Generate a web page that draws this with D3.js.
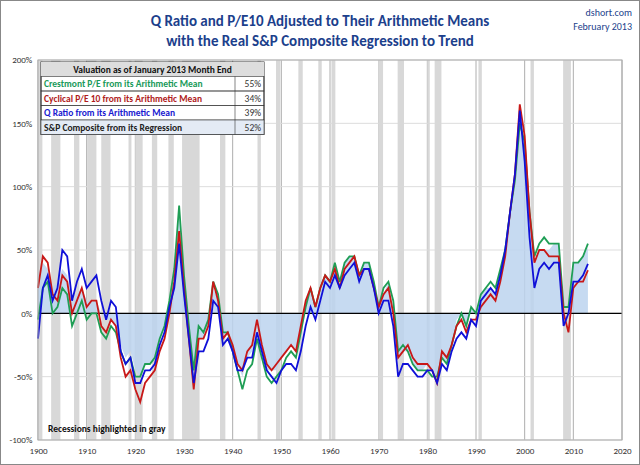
<!DOCTYPE html><html><head><meta charset="utf-8"><script src="https://d3js.org/d3.v7.min.js"></script>
<style>body{margin:0;background:#fff}text{font-family:Calibri,Carlito,"Liberation Sans",sans-serif}</style></head><body><svg id="c" width="640" height="465"></svg>
<script>
const years=d3.range(1900,2014);
const qRatio=[-20,20,30,10,20,50,45,10,25,35,20,25,30,10,-5,10,5,-30,-40,-35,-55,-55,-45,-45,-40,-25,-15,5,20,55,15,-20,-55,-30,-30,-20,10,5,-25,-20,-30,-45,-45,-35,-35,-15,-30,-45,-50,-55,-45,-40,-40,-45,-30,-10,5,-5,10,25,20,30,20,30,35,40,25,35,35,20,0,10,10,-10,-50,-40,-40,-45,-50,-50,-45,-45,-55,-40,-45,-30,-20,-15,-20,-5,-10,10,15,20,15,30,50,80,110,160,120,60,20,35,40,35,40,40,-10,0,25,25,30,39];
const pe10=[20,45,40,15,10,30,25,0,10,20,5,10,10,-10,-15,-5,-10,-35,-50,-45,-60,-70,-55,-50,-45,-30,-20,0,25,65,20,-20,-60,-20,-20,-10,25,10,-20,-15,-25,-40,-45,-30,-25,-5,-25,-40,-45,-40,-35,-30,-25,-30,-10,10,20,5,20,30,25,35,20,35,40,45,30,35,35,20,5,15,20,0,-35,-30,-25,-35,-40,-40,-40,-45,-55,-30,-35,-25,-10,-5,-15,-5,-5,5,10,15,10,25,45,80,110,165,140,80,40,50,50,45,45,45,0,-15,20,25,25,34];
const crestmont=[-5,20,25,0,5,20,15,-10,0,10,-5,0,0,-15,-20,-10,-15,-30,-40,-35,-50,-50,-40,-40,-35,-20,-10,10,35,85,30,-10,-45,-10,-15,-5,25,15,-15,-15,-30,-45,-60,-45,-40,-20,-35,-50,-55,-50,-45,-35,-30,-35,-15,5,20,5,20,30,25,40,25,40,45,45,30,40,40,25,5,20,25,10,-30,-25,-30,-40,-45,-45,-45,-50,-50,-35,-40,-25,-10,0,-10,5,0,15,20,25,20,35,50,80,105,150,135,80,45,55,60,55,55,55,5,5,40,40,45,55];
const spReg=[30,40,35,20,25,35,30,10,15,20,10,10,10,0,-5,-5,-10,-25,-35,-30,-45,-50,-40,-40,-35,-20,-10,10,35,80,30,-15,-50,-20,-20,-10,20,10,-20,-15,-25,-40,-50,-35,-30,-15,-30,-45,-45,-45,-35,-30,-25,-30,-10,10,20,5,20,30,25,40,25,40,45,45,30,40,40,25,5,15,25,5,-35,-30,-30,-40,-45,-45,-40,-45,-50,-35,-40,-25,-5,0,-10,5,0,15,20,20,15,35,55,85,110,150,130,80,40,50,50,50,55,55,0,0,40,40,45,52];
const recessions=[[1899.5,1900.9],[1902.7,1904.6],[1907.4,1908.5],[1910.1,1912],[1913,1914.9],[1918.6,1919.2],[1920,1921.5],[1923.4,1924.5],[1926.8,1927.9],[1929.6,1933.2],[1937.4,1938.5],[1945.1,1945.8],[1948.9,1949.8],[1953.5,1954.4],[1957.6,1958.3],[1960.3,1961.1],[1969.9,1970.9],[1973.9,1975.2],[1980,1980.5],[1981.5,1982.9],[1990.5,1991.2],[2001.2,2001.9],[2007.9,2009.5]];
const legendRows=[["Crestmont P/E from its Arithmetic Mean","55%","#1a9a5a"],["Cyclical P/E 10 from its Arithmetic Mean","34%","#b01c1c"],["Q Ratio from its Arithmetic Mean","39%","#1a1ad0"],["S&P Composite from its Regression","52%","#222"]];
const svg=d3.select("#c");
svg.append("rect").attr("x",0.5).attr("y",0.5).attr("width",639).attr("height",464).attr("fill","#fff").attr("stroke","#888");
const x=d3.scaleLinear().domain([1900,2020]).range([38,622]);
const y=d3.scaleLinear().domain([-100,200]).range([440,60]);
const g=svg.append("g");
x.ticks(12).forEach(t=>g.append("line").attr("x1",x(t)).attr("x2",x(t)).attr("y1",60).attr("y2",440).attr("stroke","#999").attr("stroke-width",0.8));
y.ticks(6).forEach(t=>g.append("line").attr("x1",38).attr("x2",622).attr("y1",y(t)).attr("y2",y(t)).attr("stroke","#ddd"));
recessions.forEach(r=>g.append("rect").attr("x",x(Math.max(1900,r[0]))).attr("width",x(r[1])-x(Math.max(1900,r[0]))).attr("y",60).attr("height",380).attr("fill","#d8d8d8"));
g.append("path").datum(spReg).attr("d",d3.area().x((d,i)=>x(years[i])).y0(y(0)).y1(d=>y(d))).attr("fill","#bcd3ee").attr("opacity",0.85);
g.append("line").attr("x1",38).attr("x2",622).attr("y1",y(0)).attr("y2",y(0)).attr("stroke","#000").attr("stroke-width",1.3);
const line=d3.line().x((d,i)=>x(years[i])).y(d=>y(d));
[[crestmont,"#1f9e55"],[pe10,"#c81818"],[qRatio,"#1010d8"]].forEach(s=>g.append("path").datum(s[0]).attr("d",line).attr("fill","none").attr("stroke",s[1]).attr("stroke-width",1.8));
g.append("rect").attr("x",38).attr("y",60).attr("width",584).attr("height",380).attr("fill","none").attr("stroke","#aaa");
svg.append("g").attr("transform","translate(0,440)").call(d3.axisBottom(x).tickValues(d3.range(1900,2021,10)).tickFormat(d3.format("d")).tickSize(0)).call(a=>a.select(".domain").remove()).selectAll("text").attr("dy","1.2em").attr("font-size",9).attr("fill","#333");
svg.append("g").attr("transform","translate(38,0)").call(d3.axisLeft(y).tickValues(d3.range(-100,201,50)).tickFormat(d=>d+"%").tickSize(0)).call(a=>a.select(".domain").remove()).selectAll("text").attr("dx","-0.3em").attr("font-size",9).attr("fill","#333");
svg.append("text").attr("x",320).attr("y",26).attr("text-anchor","middle").attr("font-size",15).attr("font-weight","bold").attr("fill","#1c3f8c").text("Q Ratio and P/E10 Adjusted to Their Arithmetic Means");
svg.append("text").attr("x",320).attr("y",46).attr("text-anchor","middle").attr("font-size",15).attr("font-weight","bold").attr("fill","#1c3f8c").text("with the Real S&P Composite Regression to Trend");
svg.append("text").attr("x",632).attr("y",16).attr("text-anchor","end").attr("font-size",10).attr("fill","#1c3f8c").text("dshort.com");
svg.append("text").attr("x",632).attr("y",30).attr("text-anchor","end").attr("font-size",10).attr("fill","#1c3f8c").text("February 2013");
const L=svg.append("g");
const lx=41,ly=62,lw=223,rh=14.5;
L.append("rect").attr("x",lx).attr("y",ly).attr("width",lw).attr("height",rh*5).attr("fill","#fff").attr("stroke","#333");
L.append("rect").attr("x",lx).attr("y",ly).attr("width",lw).attr("height",rh).attr("fill","#ddd");
L.append("text").attr("x",lx+lw/2).attr("y",ly+10.5).attr("text-anchor","middle").attr("font-size",9.5).attr("font-weight","bold").attr("fill","#111").text("Valuation as of January 2013 Month End");
legendRows.forEach((r,i)=>{const yy=ly+rh*(i+1);
L.append("rect").attr("x",lx).attr("y",yy).attr("width",lw).attr("height",rh).attr("fill",i==3?"#e4ebf5":"none").attr("stroke","#333").attr("stroke-width",0.6);
L.append("line").attr("x1",lx+194).attr("x2",lx+194).attr("y1",yy).attr("y2",yy+rh).attr("stroke","#333").attr("stroke-width",0.6);
L.append("text").attr("x",lx+3).attr("y",yy+10.5).attr("font-size",9.5).attr("font-weight","bold").attr("fill",r[2]).text(r[0]);
L.append("text").attr("x",lx+lw-3).attr("y",yy+10.5).attr("text-anchor","end").attr("font-size",9.5).attr("fill","#333").text(r[1]);});
svg.append("text").attr("x",48).attr("y",432).attr("font-size",9.5).attr("font-weight","bold").attr("fill","#111").text("Recessions highlighted in gray");
</script></body></html>
